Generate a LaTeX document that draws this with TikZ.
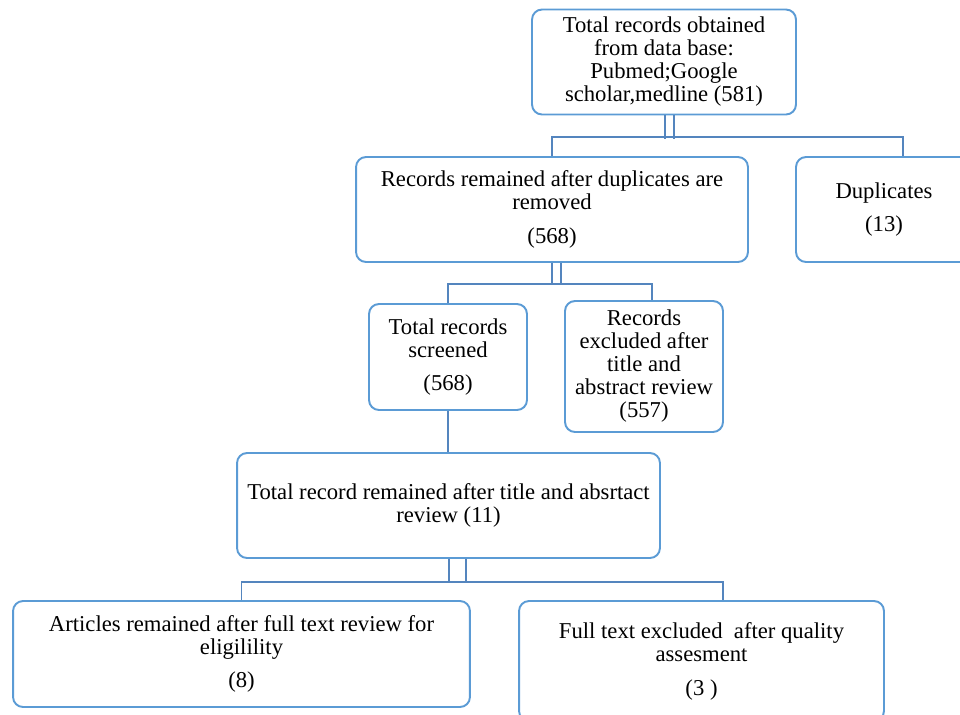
\documentclass[tikz,border=0pt]{standalone}
\usepackage{fontspec}
\setmainfont{Liberation Serif}
\definecolor{boxblue}{RGB}{91,155,213}
\definecolor{linkblue}{RGB}{84,133,190}
\begin{document}
\begin{tikzpicture}[x=0.02cm,y=-0.02cm,
    box/.style={draw=boxblue, line width=1.1pt, rounded corners=0.2cm, align=center, inner sep=0pt, font=\fontsize{12.9}{13.1}\selectfont},
    link/.style={draw=linkblue, line width=1.1pt}]
    \useasboundingbox (0,0) rectangle (960,714);

    %boxes
    \node[box, minimum width=5.28cm, minimum height=2.1cm] (total) at (664,62) {Total records obtained\\from data base:\\Pubmed;Google\\scholar,medline (581)};
    \node[box, minimum width=7.84cm, minimum height=2.1cm] (remain) at (552,209.5) {Records remained after duplicates are\\removed\\[0.22cm](568)};
    \node[box, minimum width=3.52cm, minimum height=2.1cm] (dup) at (884,209.5) {Duplicates\\[0.2cm](13)};
    \node[box, minimum width=3.16cm, minimum height=2.12cm] (screen) at (448,357) {Total records\\screened\\[0.2cm](568)};
    \node[box, minimum width=3.16cm, minimum height=2.62cm] (excl) at (644,366.5) {Records\\excluded after\\title and\\abstract review\\(557)};
    \node[box, minimum width=8.46cm, minimum height=2.1cm] (after) at (448.5,505.5) {Total record remained after title and absrtact\\review (11)};
    \node[box, minimum width=9.14cm, minimum height=2.12cm] (article) at (241.5,654) {Articles remained after full text review for\\eligilility\\[0.2cm](8)};
    \node[box, minimum width=7.3cm, minimum height=2.4cm] (fulltext) at (701.5,661) {Full text excluded \ after quality\\assesment\\[0.22cm](3\ )};

    % first split
    \coordinate (j1) at (664,137);
    \draw[link] ([xshift=0.02cm]total.south) -- ++(0,24);
    \draw[link] ([xshift=0.2cm]total.south) -- ++(0,24);
    \draw[link] (remain.north) |- (j1) -| ([xshift=0.38cm]dup.north);

    % second split
    \coordinate (j2) at (552,284);
    \draw[link] (remain.south) -- ++(0,22);
    \draw[link] ([xshift=0.18cm]remain.south) -- ++(0,22);
    \draw[link] (screen.north) |- (j2) -| ([xshift=0.16cm]excl.north);

    % straight down
    \draw[link] (screen.south) -- (screen.south |- after.north);

    % last split
    \coordinate (j3) at (449,582);
    \draw[link] ([xshift=0.01cm]after.south) -- ++(0,24);
    \draw[link] ([xshift=0.35cm]after.south) -- ++(0,24);
    \draw[link] (article.north) |- (j3) -| ([xshift=0.43cm]fulltext.north);
\end{tikzpicture}
\end{document}
